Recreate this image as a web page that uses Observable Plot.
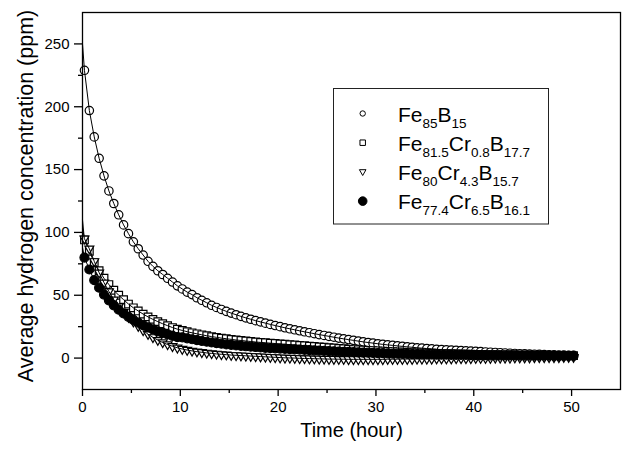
<!DOCTYPE html>
<html><head><meta charset="utf-8">
<script src="https://cdn.jsdelivr.net/npm/d3@7"></script>
<script src="https://cdn.jsdelivr.net/npm/@observablehq/plot@0.6"></script>
<style>html,body{margin:0;padding:0;background:#fff}svg{display:block}</style>
</head><body><div id="chart"></div>
<script>
// ---- data ----
const timeHour = [
0.2,0.7,1.2,1.7,2.2,2.7,3.2,3.7,4.2,4.7,
5.2,5.7,6.2,6.7,7.2,7.7,8.2,8.7,9.2,9.7,
10.2,10.7,11.2,11.7,12.2,12.7,13.2,13.7,14.2,14.7,
15.2,15.7,16.2,16.7,17.2,17.7,18.2,18.7,19.2,19.7,
20.2,20.7,21.2,21.7,22.2,22.7,23.2,23.7,24.2,24.7,
25.2,25.7,26.2,26.7,27.2,27.7,28.2,28.7,29.2,29.7,
30.2,30.7,31.2,31.7,32.2,32.7,33.2,33.7,34.2,34.7,
35.2,35.7,36.2,36.7,37.2,37.7,38.2,38.7,39.2,39.7,
40.2,40.7,41.2,41.7,42.2,42.7,43.2,43.7,44.2,44.7,
45.2,45.7,46.2,46.7,47.2,47.7,48.2,48.7,49.2,49.7,
50.2];
const fe85B15 = [
229,197,176,159,145,133,123,114,106,99,
92.5,87,82,77,73,69.5,66.5,63.5,60.5,57.5,
55,52.5,50.5,48,46,44,42,40.3,38.7,37.2,
35.8,34.5,33.2,32,30.9,29.8,28.8,27.8,26.8,25.9,
25,24.1,23.3,22.5,21.7,20.9,20.2,19.4,18.7,18,
17.3,16.6,15.9,15.3,14.7,14.1,13.5,12.9,12.4,11.9,
11.4,10.9,10.5,10.1,9.7,9.3,8.9,8.6,8.2,7.9,
7.6,7.3,7.0,6.8,6.5,6.3,6.1,5.9,5.7,5.5,
5.3,5.1,4.9,4.7,4.5,4.3,4.1,3.9,3.7,3.5,
3.4,3.2,3.1,3.0,2.8,2.7,2.6,2.5,2.4,2.3,
2.2];
const fe815Cr08B177 = [
94,85,76,69.5,63.5,58.5,54,50,46.5,43,
40,37.5,35,32.8,30.8,29,27.3,25.8,24.3,23,
22,21,20.1,19.3,18.5,17.8,17.1,16.5,15.9,15.4,
14.9,14.4,14,13.6,13.2,12.8,12.5,12.2,11.9,11.6,
11.3,11,10.7,10.4,10.1,9.8,9.5,9.2,8.9,8.6,
8.3,8,7.7,7.4,7.1,6.8,6.6,6.4,6.2,6,
5.8,5.6,5.4,5.2,5,4.8,4.6,4.4,4.2,4.1,
4,3.9,3.8,3.7,3.6,3.5,3.4,3.3,3.2,3.1,
3,2.9,2.8,2.8,2.7,2.6,2.6,2.5,2.5,2.4,
2.4,2.3,2.3,2.2,2.2,2.1,2.1,2.1,2.0,2.0,
2.0];
const fe80Cr43B157 = [
95,87,77,68,60,53,46.5,41,36.5,32.5,
29,25.5,22,19,16.5,14.3,12.4,10.8,9.4,8.2,
7.2,6.4,5.7,5.1,4.6,4.1,3.7,3.3,3,2.7,
2.4,2.2,2,1.8,1.6,1.4,1.2,1,0.8,0.6,
0.4,0.2,0.1,0,-0.2,-0.3,-0.4,-0.5,-0.6,-0.7,
-0.8,-0.8,-0.9,-0.9,-1,-1,-1,-1,-1,-1,
-1,-1,-0.9,-0.9,-0.9,-0.8,-0.8,-0.8,-0.7,-0.7,
-0.6,-0.6,-0.5,-0.5,-0.4,-0.4,-0.3,-0.3,-0.2,-0.2,
-0.1,-0.1,0,0,0.1,0.1,0.2,0.2,0.3,0.3,
0.4,0.4,0.5,0.5,0.5,0.6,0.6,0.6,0.7,0.7,
0.7];
const fe774Cr65B161 = [
80,70.5,62,56,50.5,46,42,38.5,35.5,32.8,
30.4,28.2,26.2,24.4,22.8,21.3,20,18.8,17.7,16.7,
16.5,15.7,15,14.3,13.6,13,12.4,11.9,11.4,10.9,
10.5,10.1,9.7,9.4,9.1,8.8,8.5,8.2,8,7.8,
7.6,7.4,7.2,7,6.8,6.6,6.4,6.2,6,5.8,
5.6,5.4,5.2,5,4.9,4.7,4.6,4.4,4.3,4.1,
4,3.9,3.8,3.6,3.5,3.4,3.3,3.2,3.1,3,
2.9,2.9,2.8,2.7,2.7,2.6,2.6,2.5,2.5,2.4,
2.4,2.3,2.3,2.2,2.2,2.2,2.1,2.1,2.1,2.0,
2.0,2.0,1.9,1.9,1.9,1.9,1.8,1.8,1.8,1.8,
1.8];
// fitted curves start at t = 0 with these values
const fitStartTime = 0;
const fitStart = [250, 110, 103, 88];
const seriesKeys = ["Fe85B15", "Fe81.5Cr0.8B17.7", "Fe80Cr4.3B15.7", "Fe77.4Cr6.5B16.1"];
const seriesValues = [fe85B15, fe815Cr08B177, fe80Cr43B157, fe774Cr65B161];
const legendLabels = [
  [["Fe",0],["85",1],["B",0],["15",1]],
  [["Fe",0],["81.5",1],["Cr",0],["0.8",1],["B",0],["17.7",1]],
  [["Fe",0],["80",1],["Cr",0],["4.3",1],["B",0],["15.7",1]],
  [["Fe",0],["77.4",1],["Cr",0],["6.5",1],["B",0],["16.1",1]]
];
const xTicks = [0, 10, 20, 30, 40, 50];
const xMinorTicks = [5, 15, 25, 35, 45];
const yTicks = [0, 50, 100, 150, 200, 250];
const yMinorTicks = [25, 75, 125, 175, 225];
const xTitle = "Time (hour)";
const yTitle = "Average hydrogen concentration (ppm)";

// ---- build tables ----
const points = seriesKeys.map((key, i) => timeHour.map((t, j) => ({series: key, t, v: seriesValues[i][j]})));
const fits = seriesKeys.map((key, i) => [{series: key, t: fitStartTime, v: fitStart[i]}, ...points[i]]);

const triangleDown = {
  draw(ctx, size) {
    const s = Math.sqrt(size) * 1.2, w = s / 2, h = s * 0.866;
    ctx.moveTo(-w, -h / 3); ctx.lineTo(w, -h / 3); ctx.lineTo(0, 2 * h / 3); ctx.closePath();
  }
};
const styles = [
  {symbol: "circle", r: 4.2, fill: "white", stroke: "black"},
  {symbol: "square", r: 4.3, fill: "white", stroke: "black"},
  {symbol: triangleDown, r: 4.2, fill: "white", stroke: "black"},
  {symbol: "circle", r: 4.5, fill: "black", stroke: "black"}
];

const seriesMarks = [];
seriesKeys.forEach((key, i) => {
  seriesMarks.push(Plot.dot(points[i], {x: "t", y: "v", ...styles[i], strokeWidth: 1.2}));
  seriesMarks.push(Plot.line(fits[i], {x: "t", y: "v", stroke: "black", strokeWidth: 1}));
});

const FONT = "'Liberation Sans', Arial, Helvetica, sans-serif";
const chart = Plot.plot({
  width: 622, height: 450,
  marginLeft: 82, marginRight: 2, marginTop: 12, marginBottom: 61,
  style: {fontFamily: FONT, fontSize: "15px", background: "white", color: "black"},
  x: {domain: [0, 55], label: null},
  y: {domain: [-25, 275], label: null},
  marks: [
    ...seriesMarks,
    Plot.frame({stroke: "black", strokeWidth: 1.3}),
    Plot.axisX({ticks: xTicks, tickSize: 7, tickPadding: 5, label: null, strokeWidth: 1.3, tickFormat: d => String(d)}),
    Plot.axisX({ticks: xMinorTicks, tickSize: 4, label: null, strokeWidth: 1.3, tickFormat: () => ""}),
    Plot.axisY({ticks: yTicks, tickSize: 8, tickPadding: 5, label: null, strokeWidth: 1.3, tickFormat: d => String(d)}),
    Plot.axisY({ticks: yMinorTicks, tickSize: 4, label: null, strokeWidth: 1.3, tickFormat: () => ""}),
    Plot.text([xTitle], {text: d => d, frameAnchor: "bottom", dy: 47, fontSize: 20}),
    Plot.text([yTitle], {text: d => d, frameAnchor: "left", textAnchor: "middle", rotate: -90, dx: -56, dy: -5, fontSize: 21.5})
  ]
});
document.getElementById("chart").appendChild(chart);

// ---- legend ----
const svg = d3.select(chart);
const lg = svg.append("g").attr("font-family", FONT).attr("fill", "black").attr("text-anchor", "start");
lg.append("rect").attr("x", 333.5).attr("y", 88.5).attr("width", 215).attr("height", 135.5)
  .attr("fill", "white").attr("stroke", "#222").attr("stroke-width", 1);
const legendSymbols = [
  {type: d3.symbolCircle, size: Math.PI * 2.7 * 2.7, fill: "white"},
  {type: d3.symbolSquare, size: 30, fill: "white"},
  {type: null, fill: "white"},
  {type: d3.symbolCircle, size: Math.PI * 4.3 * 4.3, fill: "black"}
];
legendLabels.forEach((parts, i) => {
  const cy = 113.5 + i * 29.2;
  const sx = 362.7;
  const sym = legendSymbols[i];
  if (sym.type) {
    lg.append("path").attr("d", d3.symbol(sym.type, sym.size)()).attr("transform", `translate(${sx},${cy})`)
      .attr("fill", sym.fill).attr("stroke", "black").attr("stroke-width", 1);
  } else {
    lg.append("path").attr("d", "M-3.3,-2.2L3.3,-2.2L0,3.6Z").attr("transform", `translate(${sx},${cy})`)
      .attr("fill", "white").attr("stroke", "black").attr("stroke-width", 1);
  }
  const t = lg.append("text").attr("x", 398).attr("y", cy + 8).attr("font-size", 21).attr("text-anchor", "start");
  let low = false;
  parts.forEach(([s, sub]) => {
    const ts = t.append("tspan").text(s);
    if (sub && !low) { ts.attr("dy", 6).attr("font-size", 13.5); low = true; }
    else if (sub) { ts.attr("font-size", 13.5); }
    else if (low) { ts.attr("dy", -6); low = false; }
  });
});
</script>
</body></html>
